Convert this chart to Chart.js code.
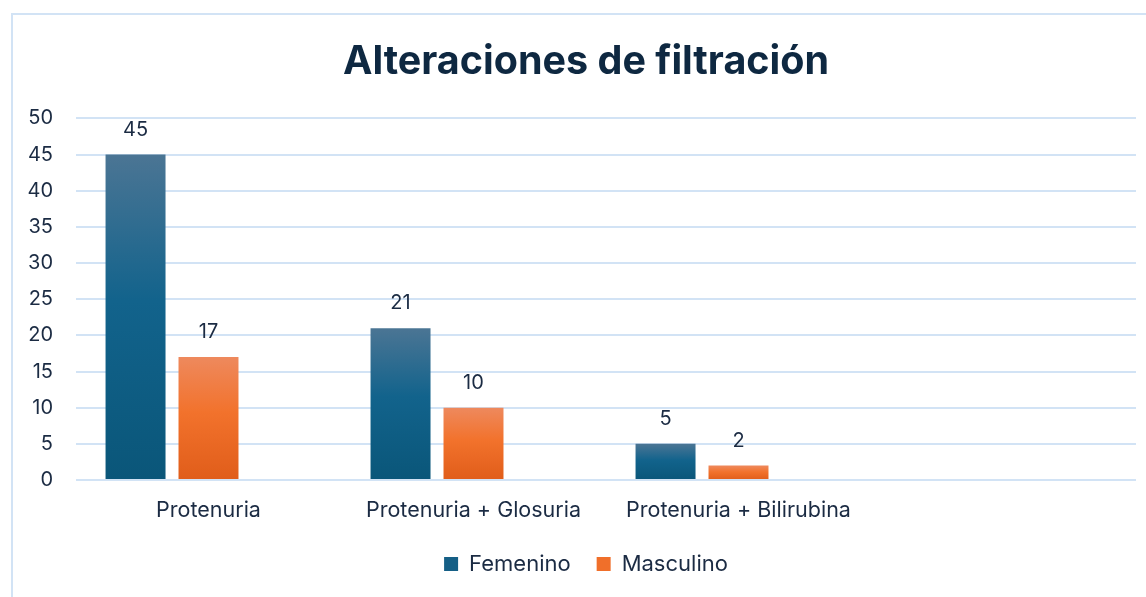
<!DOCTYPE html>
<html>
<head>
<meta charset="utf-8">
<script src="https://cdn.jsdelivr.net/npm/chart.js@4.4.1/dist/chart.umd.min.js"></script>
<style>
  html, body { margin: 0; padding: 0; background: #fff; overflow: hidden; width: 1146px; height: 597px; }
  #frame { position: absolute; left: 11px; top: 13px; width: 1300px; height: 800px; border: 2px solid #d2e3f5; box-sizing: border-box; }
  #wrap { position: absolute; left: 13px; top: 15px; width: 1146px; height: 582px; }
</style>
</head>
<body>
<div id="frame"></div>
<div id="wrap"><canvas id="c"></canvas></div>
<script>
const categories = ['Protenuria', 'Protenuria + Glosuria', 'Protenuria + Bilirubina', ''];
const femenino = [45, 21, 5, null];
const masculino = [17, 10, 2, null];
const emptySeries = [null, null, null, null];
const yTicks = { min: 0, max: 50, step: 5 };

const FONT = "Inter, 'Open Sans', sans-serif";
const TEXT = '#1b2b43';

function barGradient(stops, fallback) {
  return function (ctx) {
    const chart = ctx.chart;
    if (!chart.chartArea || ctx.type !== 'data' || ctx.parsed == null || ctx.parsed.y == null) return fallback;
    const ys = chart.scales.y;
    const top = ys.getPixelForValue(ctx.parsed.y);
    const base = ys.getPixelForValue(0);
    if (!isFinite(top) || !isFinite(base) || top === base) return fallback;
    const g = chart.ctx.createLinearGradient(0, top, 0, base);
    stops.forEach(s => g.addColorStop(s[0], s[1]));
    return g;
  };
}

const valueLabels = {
  id: 'valueLabels',
  afterDatasetsDraw(chart) {
    const ctx = chart.ctx;
    ctx.save();
    ctx.font = '20px ' + FONT;
    ctx.fillStyle = TEXT;
    ctx.textAlign = 'center';
    ctx.textBaseline = 'alphabetic';
    chart.data.datasets.forEach((ds, di) => {
      const meta = chart.getDatasetMeta(di);
      meta.data.forEach((bar, i) => {
        const v = ds.data[i];
        if (v == null) return;
        ctx.fillText(String(v), bar.x, bar.y - 19);
      });
    });
    ctx.restore();
  }
};

new Chart(document.getElementById('c'), {
  type: 'bar',
  data: {
    labels: categories,
    datasets: [
      {
        label: 'Femenino',
        data: femenino,
        backgroundColor: barGradient([[0, '#4b7594'], [0.45, '#12638c'], [1, '#0a5679']], '#12638c')
      },
      {
        label: 'Masculino',
        data: masculino,
        backgroundColor: barGradient([[0, '#ee895d'], [0.45, '#f2722c'], [1, '#e05d1a']], '#f2722c')
      },
      {
        label: '',
        data: emptySeries,
        backgroundColor: '#ffffff'
      }
    ]
  },
  options: {
    responsive: true,
    maintainAspectRatio: false,
    animation: false,
    categoryPercentage: 0.826,
    barPercentage: 0.822,
    layout: { padding: { left: 0, right: 0, top: 0, bottom: 12 } },
    plugins: {
      title: {
        display: true,
        text: 'Alteraciones de filtración',
        color: '#0e2841',
        font: { family: FONT, size: 39.5, weight: 'bold' },
        padding: { top: 23, bottom: 33 }
      },
      legend: {
        position: 'bottom',
        labels: {
          filter: item => item.text !== '',
          color: TEXT,
          font: { family: FONT, size: 22 },
          boxWidth: 14,
          boxHeight: 14,
          padding: 26,
          generateLabels(chart) {
            const cols = ['#155f86', '#f06f2a'];
            return chart.data.datasets.map((ds, i) => ({
              text: ds.label,
              fillStyle: cols[i] || '#fff',
              strokeStyle: cols[i] || '#fff',
              lineWidth: 0,
              fontColor: TEXT,
              datasetIndex: i,
              hidden: false
            }));
          }
        }
      },
      tooltip: { enabled: false }
    },
    scales: {
      x: {
        afterFit(scale) { scale.height = 47; },
        grid: { display: false, drawTicks: false },
        border: { display: false },
        ticks: { color: TEXT, font: { family: FONT, size: 21.5 }, padding: 18, maxRotation: 0 }
      },
      y: {
        min: yTicks.min,
        max: yTicks.max,
        afterFit(scale) { scale.width = 63; },
        grid: { color: '#d2e3f5', lineWidth: 2, drawTicks: false },
        border: { display: false },
        ticks: { stepSize: yTicks.step, color: TEXT, font: { family: FONT, size: 20 }, padding: 23 }
      },
      yr: {
        position: 'right',
        display: true,
        afterFit(scale) { scale.width = 23; },
        grid: { display: false, drawTicks: false },
        border: { display: false },
        ticks: { display: false }
      }
    }
  },
  plugins: [valueLabels]
});
</script>
</body>
</html>
